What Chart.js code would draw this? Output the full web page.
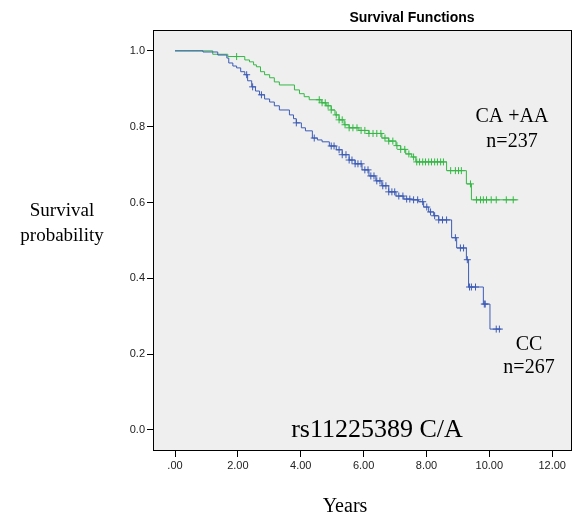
<!DOCTYPE html>
<html>
<head>
<meta charset="utf-8">
<script src="https://cdn.jsdelivr.net/npm/chart.js@4"></script>
<style>
  html, body { margin: 0; padding: 0; background: #fff; }
  #wrap { width: 574px; height: 520px; position: relative; }
</style>
</head>
<body>
<div id="wrap"><canvas id="chart" width="574" height="520"></canvas></div>
<script>
// Kaplan-Meier step points (time in years, survival after the event)
const greenTimes = [0, 1.20, 1.68, 2.22, 2.37, 2.50, 2.59, 2.72, 2.85, 3.01, 3.16, 3.32, 3.80, 3.96, 4.11, 4.27, 4.65, 4.81, 4.97, 5.09, 5.22, 5.38, 5.54, 5.85, 6.17, 6.58, 6.80, 7.03, 7.18, 7.34, 7.53, 7.66, 8.64, 9.27, 9.43, 10.92]
const greenSurv = [1, 0.991, 0.985, 0.976, 0.971, 0.963, 0.958, 0.945, 0.937, 0.929, 0.918, 0.910, 0.897, 0.887, 0.879, 0.871, 0.863, 0.855, 0.844, 0.831, 0.818, 0.805, 0.797, 0.790, 0.782, 0.770, 0.762, 0.750, 0.740, 0.728, 0.720, 0.707, 0.684, 0.649, 0.607, 0.607]
const greenCensor = [1.96, 4.59, 4.68, 4.78, 4.87, 4.97, 5.13, 5.22, 5.32, 5.41, 5.54, 5.66, 5.79, 5.92, 6.04, 6.17, 6.30, 6.42, 6.55, 6.68, 6.80, 6.93, 7.06, 7.18, 7.31, 7.44, 7.59, 7.69, 7.78, 7.88, 7.97, 8.07, 8.16, 8.26, 8.35, 8.45, 8.54, 8.77, 8.92, 9.02, 9.11, 9.40, 9.59, 9.72, 9.81, 9.91, 10.06, 10.22, 10.54, 10.76]

const blueTimes = [0, 0.89, 1.36, 1.65, 1.71, 1.84, 1.96, 2.09, 2.22, 2.31, 2.44, 2.56, 2.69, 2.85, 3.01, 3.16, 3.32, 3.64, 3.77, 3.86, 4.02, 4.15, 4.37, 4.53, 4.68, 4.91, 5.13, 5.32, 5.54, 5.73, 5.95, 6.17, 6.39, 6.58, 6.80, 7.03, 7.28, 7.53, 7.75, 7.91, 8.07, 8.23, 8.39, 8.80, 8.96, 9.27, 9.34, 9.81, 10.02, 10.38]
const blueSurv = [1, 0.997, 0.989, 0.981, 0.968, 0.960, 0.955, 0.945, 0.937, 0.921, 0.905, 0.894, 0.884, 0.873, 0.865, 0.855, 0.844, 0.831, 0.821, 0.810, 0.797, 0.789, 0.770, 0.765, 0.760, 0.749, 0.739, 0.726, 0.712, 0.702, 0.686, 0.670, 0.657, 0.644, 0.628, 0.617, 0.609, 0.607, 0.602, 0.588, 0.575, 0.565, 0.554, 0.507, 0.480, 0.449, 0.377, 0.332, 0.266, 0.266]
const blueCensor = [2.28, 2.47, 2.75, 3.86, 4.43, 4.97, 5.06, 5.22, 5.32, 5.44, 5.54, 5.63, 5.73, 5.82, 5.92, 6.04, 6.14, 6.23, 6.33, 6.42, 6.52, 6.61, 6.71, 6.80, 6.90, 6.99, 7.12, 7.25, 7.37, 7.47, 7.59, 7.72, 7.88, 8.01, 8.13, 8.26, 8.39, 8.51, 8.64, 8.92, 9.08, 9.18, 9.30, 9.37, 9.43, 9.56, 9.84, 9.87, 10.22, 10.32]

const xTicks = [0, 2, 4, 6, 8, 10, 12]
const yTicks = [0, 0.2, 0.4, 0.6, 0.8, 1.0]

const GREEN = '#35b845'
const BLUE = '#3d5cb6'

function steps(times, surv) {
  return times.map((t, i) => ({ x: t, y: surv[i] }))
}

// survival value at time t
function survAt(times, surv, t) {
  let s = surv[0]
  for (let i = 0; i < times.length; i++) {
    if (times[i] <= t) s = surv[i]
  }
  return s
}

function censorPoints(cens, times, surv) {
  return cens.map(t => ({ x: t, y: survAt(times, surv, t) }))
}

const labelsPlugin = {
  id: 'labels',
  beforeDraw(chart) {
    const { ctx, chartArea } = chart
    ctx.save()
    ctx.fillStyle = '#efefef'
    ctx.fillRect(chartArea.left, chartArea.top, chartArea.right - chartArea.left, chartArea.bottom - chartArea.top)
    ctx.restore()
  },
  afterDraw(chart) {
    const { ctx, chartArea } = chart
    ctx.save()
    ctx.strokeStyle = '#000'
    ctx.lineWidth = 1
    ctx.strokeRect(chartArea.left + 0.5, chartArea.top + 0.5, chartArea.right - chartArea.left - 1, chartArea.bottom - chartArea.top)

    ctx.fillStyle = '#000'
    ctx.textAlign = 'center'
    ctx.textBaseline = 'alphabetic'
    ctx.font = 'bold 14px "Liberation Sans", Arial, sans-serif'
    ctx.fillText('Survival Functions', 412, 22)

    ctx.font = '20px "Liberation Serif", "Times New Roman", serif'
    ctx.fillText('CA +AA', 512, 122)
    ctx.fillText('n=237', 512, 147)
    ctx.fillText('CC', 529, 350)
    ctx.fillText('n=267', 529, 373)

    ctx.font = '19px "Liberation Serif", "Times New Roman", serif'
    ctx.fillText('Survival', 62, 216)
    ctx.fillText('probability', 62, 241)

    ctx.font = '20px "Liberation Serif", "Times New Roman", serif'
    ctx.fillText('Years', 345, 512)

    ctx.font = '26px "Liberation Serif", "Times New Roman", serif'
    ctx.fillText('rs11225389 C/A', 377, 437)
    ctx.restore()
  }
}

new Chart(document.getElementById('chart'), {
  type: 'line',
  data: {
    datasets: [
      {
        label: 'CC',
        data: steps(blueTimes, blueSurv),
        borderColor: BLUE,
        borderWidth: 1,
        stepped: true,
        pointRadius: 0,
        fill: false
      },
      {
        label: 'CC censored',
        data: censorPoints(blueCensor, blueTimes, blueSurv),
        showLine: false,
        pointStyle: 'cross',
        pointRadius: 3.5,
        pointBorderWidth: 1,
        borderColor: BLUE,
        backgroundColor: BLUE
      },
      {
        label: 'CA +AA',
        data: steps(greenTimes, greenSurv),
        borderColor: GREEN,
        borderWidth: 1,
        stepped: true,
        pointRadius: 0,
        fill: false
      },
      {
        label: 'CA +AA censored',
        data: censorPoints(greenCensor, greenTimes, greenSurv),
        showLine: false,
        pointStyle: 'cross',
        pointRadius: 3.5,
        pointBorderWidth: 1,
        borderColor: GREEN,
        backgroundColor: GREEN
      }
    ]
  },
  options: {
    responsive: false,
    animation: false,
    layout: { autoPadding: false, padding: { left: 0, top: 30, right: 2, bottom: 0 } },
    plugins: {
      legend: { display: false },
      tooltip: { enabled: false }
    },
    scales: {
      x: {
        type: 'linear',
        min: -0.7,
        max: 12.63,
        afterBuildTicks: (scale) => { scale.ticks = xTicks.map(v => ({ value: v })) },
        afterFit: (scale) => {
          scale.height = 70
          scale.paddingLeft = 0
          scale.paddingRight = 0
        },
        border: { display: false },
        grid: { drawOnChartArea: false, color: '#000', tickLength: 7, tickWidth: 1 },
        ticks: {
          color: '#222',
          font: { family: '"Liberation Sans", Arial, sans-serif', size: 11 },
          padding: 2,
          maxRotation: 0,
          callback: (v) => v === 0 ? '.00' : v.toFixed(2)
        }
      },
      y: {
        type: 'linear',
        min: -0.053,
        max: 1.055,
        afterBuildTicks: (scale) => { scale.ticks = yTicks.map(v => ({ value: v })) },
        afterFit: (scale) => {
          scale.width = 153
          scale.paddingTop = 0
          scale.paddingBottom = 0
        },
        border: { display: false },
        grid: { drawOnChartArea: false, color: '#000', tickLength: 6, tickWidth: 1 },
        ticks: {
          color: '#222',
          font: { family: '"Liberation Sans", Arial, sans-serif', size: 11 },
          padding: 2,
          callback: (v) => v.toFixed(1)
        }
      }
    }
  },
  plugins: [labelsPlugin]
})
</script>
</body>
</html>
